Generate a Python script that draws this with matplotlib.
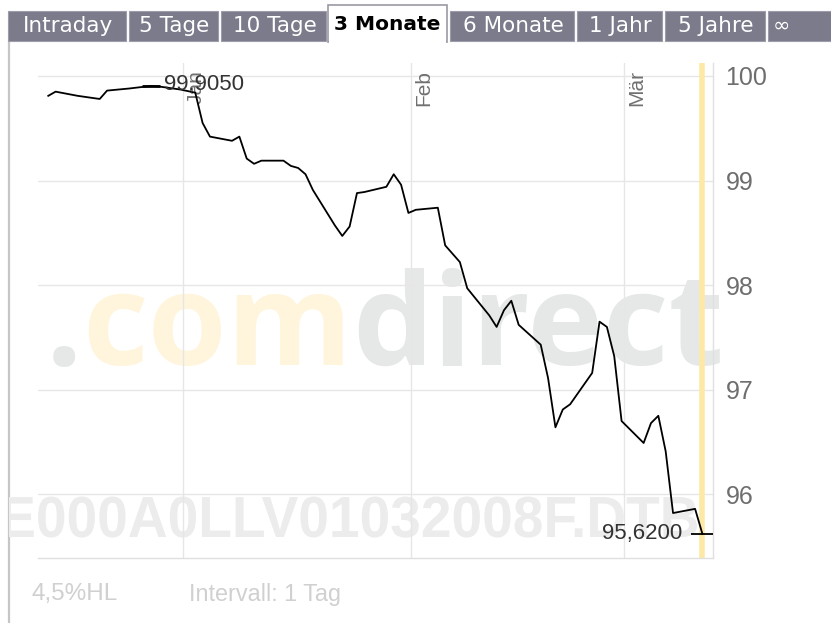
import matplotlib
matplotlib.use("Agg")
import matplotlib.pyplot as plt
import matplotlib.dates as mdates
import pandas as pd
from matplotlib.patches import Rectangle, PathPatch
from matplotlib.textpath import TextPath
from matplotlib.font_manager import FontProperties
from matplotlib.transforms import Affine2D

# ---------------- data ----------------
dates = [
    "2007-12-13", "2007-12-14", "2007-12-17", "2007-12-18", "2007-12-19", "2007-12-20",
    "2007-12-21", "2007-12-24", "2007-12-27", "2007-12-28", "2007-12-31",
    "2008-01-02", "2008-01-03", "2008-01-04", "2008-01-07", "2008-01-08", "2008-01-09",
    "2008-01-10", "2008-01-11", "2008-01-14", "2008-01-15", "2008-01-16", "2008-01-17",
    "2008-01-18", "2008-01-21", "2008-01-22", "2008-01-23", "2008-01-24", "2008-01-25",
    "2008-01-28", "2008-01-29", "2008-01-30", "2008-01-31",
    "2008-02-01", "2008-02-04", "2008-02-05", "2008-02-06", "2008-02-07", "2008-02-08",
    "2008-02-11", "2008-02-12", "2008-02-13", "2008-02-14", "2008-02-15", "2008-02-18",
    "2008-02-19", "2008-02-20", "2008-02-21", "2008-02-22", "2008-02-25", "2008-02-26",
    "2008-02-27", "2008-02-28", "2008-02-29",
    "2008-03-03", "2008-03-04", "2008-03-05", "2008-03-06", "2008-03-07", "2008-03-10",
    "2008-03-11",
]
prices = [
    99.81, 99.85, 99.81, 99.80, 99.79, 99.78,
    99.86, 99.88, 99.905, 99.90, 99.87,
    99.84, 99.55, 99.42, 99.38, 99.42, 99.21,
    99.16, 99.19, 99.19, 99.14, 99.12, 99.06,
    98.91, 98.57, 98.47, 98.56, 98.88, 98.89,
    98.94, 99.06, 98.96, 98.69,
    98.72, 98.74, 98.38, 98.30, 98.22, 97.97,
    97.71, 97.60, 97.76, 97.85, 97.62, 97.43,
    97.11, 96.64, 96.81, 96.86, 97.16, 97.65,
    97.60, 97.32, 96.70,
    96.49, 96.68, 96.75, 96.41, 95.82, 95.86,
    95.62,
]
y_ticks = [96, 97, 98, 99, 100]
month_starts = ["2008-01-01", "2008-02-01", "2008-03-01"]
month_labels = ["Jan", "Feb", "Mär"]
high_label = "99,9050"
last_label = "95,6200"
tabs = ["Intraday", "5 Tage", "10 Tage", "3 Monate", "6 Monate", "1 Jahr", "5 Jahre", "∞"]
active_tab = "3 Monate"
watermark_parts = [(".", "#e6e8e8"), ("com", "#fff5dc"), ("direct", "#e6e8e8")]
symbol_watermark = "DE000A0LLV01032008F.DTB"
footer_left = "4,5%HL"
footer_right = "Intervall: 1 Tag"

# closing timestamps (afternoon settlement)
t = pd.to_datetime(dates) + pd.Timedelta(hours=16)
W, H = 831, 623
fig = plt.figure(figsize=(W / 100, H / 100), dpi=100)
fig.patch.set_facecolor("white")

# ---------- background / chrome axes (pixel coordinates) ----------
bg = fig.add_axes([0, 0, 1, 1])
bg.set_xlim(0, W)
bg.set_ylim(H, 0)
bg.axis("off")

# left border
bg.plot([8.5, 8.5], [41, H], color="#c6c6c6", lw=1.6, solid_capstyle="butt")

# tabs
tab_edges = [(8, 126), (129, 218), (221, 326), (328, 447), (450, 574), (577, 662), (665, 765), (768, 831)]
for label, (x0, x1) in zip(tabs, tab_edges):
    if label == active_tab:
        bg.add_patch(Rectangle((x0, 5), x1 - x0, 37, facecolor="white",
                               edgecolor="#9a9aa4", lw=1.2, zorder=3))
        bg.add_patch(Rectangle((x0 + 1, 38), x1 - x0 - 2, 6, facecolor="white",
                               edgecolor="none", zorder=4))
        bg.text((x0 + x1) / 2, 25, label, ha="center", va="center", fontsize=14.5,
                fontweight="bold", color="black", family="DejaVu Sans", zorder=5)
    else:
        bg.add_patch(Rectangle((x0, 11), x1 - x0, 30, facecolor="#7b7b8b",
                               edgecolor="#9c9caa", lw=0.8, zorder=2))
        if label == "∞":
            bg.text(x0 + 5, 26, label, ha="left", va="center",
                    fontsize=15, color="white", family="DejaVu Sans", zorder=5)
        else:
            bg.text((x0 + x1) / 2 + 1, 26, label, ha="center", va="center",
                    fontsize=15.5, color="white", family="DejaVu Sans", zorder=5)

# footer texts
bg.text(32, 594, footer_left, ha="left", va="center", fontsize=17.5,
        color="#d0d0d0", family="Liberation Sans")
bg.text(189, 595, footer_right, ha="left", va="center", fontsize=16.8,
        color="#d0d0d0", family="Liberation Sans")

# watermark area (clipped at the left border)
wm = fig.add_axes([9 / W, 0, (W - 9) / W, 1 - 42 / H])
wm.set_xlim(9, W)
wm.set_ylim(H, 42)
wm.axis("off")

# symbol watermark, slightly condensed bold type
fp = FontProperties(family="Liberation Sans", weight="bold")
em = 58.0
tp = TextPath((0, 0), symbol_watermark, size=em, prop=fp)
ext = tp.get_extents()
sx = 0.95
right_end, baseline = 697, 537
x_shift = right_end - ext.x1 * sx
tr = Affine2D().scale(sx, -1.0).translate(x_shift, baseline) + wm.transData
patch = PathPatch(tp, transform=tr, facecolor="#ececec", edgecolor="none", zorder=1)
wm.add_patch(patch)
patch.set_clip_path(wm.patch)

prev = None
for txt, col in watermark_parts:
    if prev is None:
        prev = wm.text(46, 365, txt, ha="left", va="baseline", fontsize=92,
                       fontweight="bold", color=col, family="Open Sans")
    else:
        prev = wm.annotate(txt, xy=(1, 0), xycoords=prev, ha="left", va="bottom",
                           fontsize=92, fontweight="bold", color=col, family="Open Sans")

# ---------------- main chart axes ----------------
ax_left, ax_right, ax_top, ax_bottom = 38, 713, 63, 558
ax = fig.add_axes([ax_left / W, 1 - ax_bottom / H, (ax_right - ax_left) / W,
                   (ax_bottom - ax_top) / H])
ax.patch.set_alpha(0)

ax.plot(t, prices, color="black", lw=1.3, zorder=5)

ax.set_xlim(pd.Timestamp("2007-12-12 06:30"), pd.Timestamp("2008-03-13 02:30"))
ax.set_ylim(95.39, 100.124)

# gridlines
for v in y_ticks:
    ax.axhline(v, color="#e6e6e6", lw=1, zorder=1)
ms = pd.to_datetime(month_starts)
for d in ms:
    ax.axvline(d, color="#e6e6e6", lw=1, zorder=1)

for s in ["left", "top"]:
    ax.spines[s].set_visible(False)
ax.spines["right"].set_color("#e0e0e0")
ax.spines["bottom"].set_color("#e0e0e0")
ax.spines["right"].set_linewidth(1)
ax.spines["bottom"].set_linewidth(1)

ax.yaxis.tick_right()
ax.set_yticks(y_ticks)
ax.set_yticklabels([str(v) for v in y_ticks])
ax.tick_params(axis="y", length=0, pad=9, labelsize=18, labelcolor="#6e6e6e")
for lab in ax.get_yticklabels():
    lab.set_family("Liberation Sans")
ax.set_xticks([])

# month labels
for d, lab in zip(ms, month_labels):
    ax.annotate(lab, xy=(mdates.date2num(d), 1), xycoords=("data", "axes fraction"),
                xytext=(2.5, -5), textcoords="offset points", rotation=90,
                ha="left", va="top", fontsize=15, color="#707070",
                family="Liberation Sans", zorder=3)

# last value highlight line
ax.axvline(t[-1], color="#fde8a8", lw=4, zorder=2)

# high marker
imax = prices.index(max(prices))
ax.plot([t[imax]], [prices[imax]], marker="_", ms=13, mew=2, color="black", zorder=6)
ax.annotate(high_label, xy=(mdates.date2num(t[imax]), prices[imax]), xytext=(9, 1),
            textcoords="offset points", ha="left", va="center", fontsize=16,
            color="#333333", family="Liberation Sans", zorder=7)

# last marker
ax.plot([t[-1]], [prices[-1]], marker="_", ms=16, mew=1.3, color="black", zorder=6)
ax.annotate(last_label, xy=(mdates.date2num(t[-1]), prices[-1]), xytext=(-14.5, 0),
            textcoords="offset points", ha="right", va="center", fontsize=16,
            color="#333333", family="Liberation Sans", zorder=7)

fig.savefig("out.png", dpi=100)
